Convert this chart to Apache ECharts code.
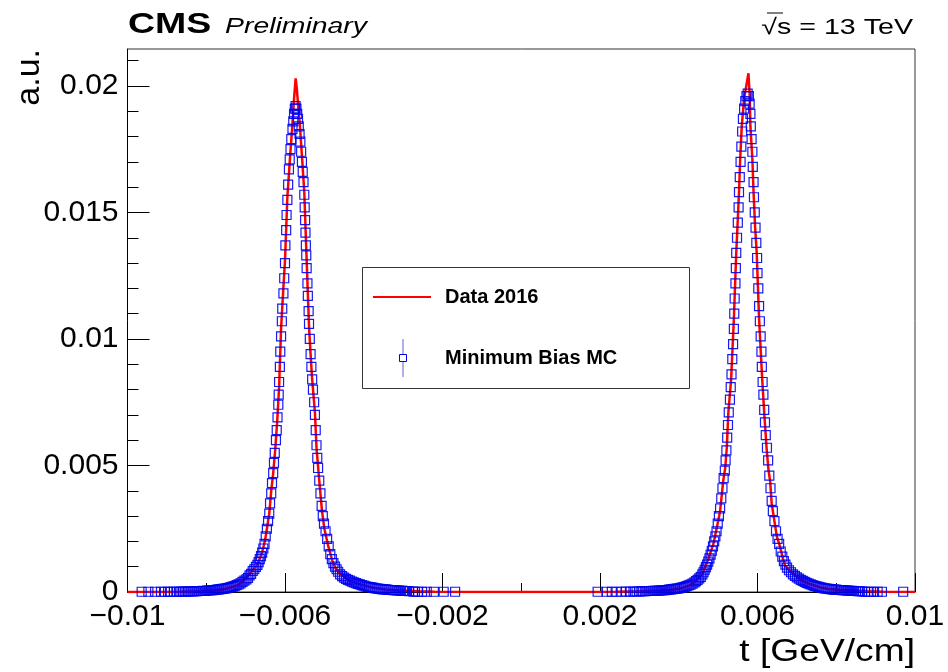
<!DOCTYPE html>
<html>
<head>
<meta charset="utf-8">
<script src="https://cdn.jsdelivr.net/npm/echarts@6.0.0/dist/echarts.min.js"></script>
<style>
html,body{margin:0;padding:0;background:#fff;}
#chart{width:948px;height:672px;}
</style>
</head>
<body>
<div id="chart"></div>
<script>
// ---------------- DATA ----------------
const xTickValues = [-0.01, -0.006, -0.002, 0.002, 0.006, 0.01];
const xTickLabels = ['\u22120.01', '\u22120.006', '\u22120.002', '0.002', '0.006', '0.01'];
const xMinorTicks = [-0.008, -0.004, 0, 0.004, 0.008];
const yTickValues = [0, 0.005, 0.01, 0.015, 0.02];
const yTickLabels = ['0', '0.005', '0.01', '0.015', '0.02'];
const yMinorTicks = [0.001, 0.002, 0.003, 0.004, 0.006, 0.007, 0.008, 0.009, 0.011, 0.012, 0.013, 0.014, 0.016, 0.017, 0.018, 0.019, 0.021];

const seriesNames = ['Data 2016', 'Minimum Bias MC'];

// Data 2016 : [t (GeV/cm), a.u.]
const data2016 = [
[-0.01,0],[-0.0088,0],[-0.0082,0.00003],[-0.0078,0.00006],[-0.0075,0.00012],[-0.0072,0.00027],
[-0.00705,0.00045],[-0.0069,0.0007],[-0.0068,0.0009],[-0.0067,0.00108],[-0.0066,0.00148],
[-0.00655,0.00176],[-0.0065,0.0021],[-0.00645,0.0026],[-0.0064,0.0031],[-0.00635,0.004],
[-0.0063,0.0047],[-0.00625,0.0056],[-0.0062,0.0067],[-0.00615,0.0081],[-0.0061,0.0104],
[-0.00605,0.0118],[-0.006,0.0131],[-0.00594,0.0156],[-0.00588,0.017],[-0.00582,0.0183],
[-0.00577,0.0195],[-0.00573,0.0203],[-0.0057,0.0199],[-0.00567,0.0193],[-0.00562,0.0184],
[-0.00556,0.017],[-0.00551,0.0158],[-0.00545,0.0131],[-0.00539,0.0105],[-0.00535,0.0094],
[-0.00531,0.0084],[-0.00524,0.0071],[-0.0052,0.0057],[-0.00513,0.0044],[-0.00506,0.0032],
[-0.005,0.0025],[-0.0049,0.0018],[-0.0048,0.00125],[-0.00473,0.00099],[-0.0046,0.0007],
[-0.00435,0.00045],[-0.0041,0.0003],[-0.0038,0.00018],[-0.00345,0.0001],[-0.0031,0.00006],
[-0.0026,0.00003],[-0.0022,0.00001],[-0.0018,0],[0.0018,0],[0.0024,0.00001],[0.003,0.00003],
[0.0035,0.00005],[0.0038,0.00008],[0.0041,0.00016],[0.0043,0.00028],[0.0045,0.00052],
[0.0046,0.0007],[0.00467,0.00099],[0.00475,0.0013],[0.00488,0.0019],[0.005,0.0028],
[0.00505,0.0032],[0.00513,0.0044],[0.00518,0.0049],[0.00522,0.0057],[0.00526,0.0071],
[0.00533,0.0084],[0.0054,0.0108],[0.00546,0.0134],[0.00549,0.0144],[0.00553,0.0158],
[0.00556,0.0171],[0.0056,0.0184],[0.00566,0.0195],[0.00577,0.0205],[0.0058,0.0197],
[0.00582,0.0184],[0.00587,0.0171],[0.0059,0.0158],[0.00594,0.0144],[0.00598,0.0134],
[0.00604,0.0108],[0.00612,0.0084],[0.00617,0.0071],[0.00623,0.0057],[0.00628,0.0048],
[0.00632,0.0044],[0.00636,0.0035],[0.0064,0.0031],[0.00649,0.0022],[0.00657,0.0018],
[0.00665,0.0013],[0.0067,0.00105],[0.00683,0.0008],[0.007,0.00059],[0.0072,0.0004],
[0.00733,0.00032],[0.0076,0.00018],[0.0078,0.00012],[0.0081,0.00008],[0.0084,0.00006],
[0.0088,0.00003],[0.0092,0.00001],[0.01,0]
];

// Minimum Bias MC : [t (GeV/cm), a.u.]
const mcMinBias = [
[-0.00964,0.00001],[-0.00947,0.00001],[-0.0093,0.00001],[-0.00915,0.00001],[-0.00905,0.00001],
[-0.00897,0.00001],[-0.0089,0.00001],[-0.00882,0.00001],[-0.00876,0.00001],[-0.00869,0.00001],
[-0.00863,0.00002],[-0.00858,0.00002],[-0.00853,0.00001],[-0.00848,0.00002],[-0.00843,0.00002],
[-0.00838,0.00003],[-0.00833,0.00002],[-0.00828,0.00003],[-0.00823,0.00003],[-0.00818,0.00004],
[-0.00813,0.00004],[-0.00808,0.00005],[-0.00803,0.00004],[-0.00798,0.00006],[-0.00793,0.00006],
[-0.00788,0.00007],[-0.00783,0.00007],[-0.00778,0.00008],[-0.00773,0.00009],[-0.00768,0.0001],
[-0.00763,0.00011],[-0.00758,0.00012],[-0.00753,0.00013],[-0.00748,0.00015],[-0.00743,0.00016],
[-0.00738,0.00019],[-0.00733,0.00021],[-0.00728,0.00023],[-0.00723,0.00027],[-0.00718,0.0003],
[-0.00713,0.00034],[-0.00708,0.0004],[-0.00703,0.00045],[-0.00698,0.0005],[-0.00694,0.00056],
[-0.0069,0.00066],[-0.00686,0.00072],[-0.00682,0.00083],[-0.00678,0.0009],[-0.00674,0.00099],
[-0.0067,0.00107],[-0.00667,0.00118],[-0.00664,0.0013],[-0.00661,0.00142],[-0.00658,0.00156],
[-0.00655,0.00172],[-0.00652,0.0019],[-0.00649,0.0022],[-0.00646,0.0025],[-0.00643,0.0028],
[-0.0064,0.0031],[-0.00638,0.0035],[-0.00635,0.0039],[-0.00633,0.0043],[-0.0063,0.0047],
[-0.00628,0.0051],[-0.00626,0.0055],[-0.00623,0.006],[-0.00621,0.0064],[-0.00619,0.0069],
[-0.00617,0.0074],[-0.00616,0.0078],[-0.00615,0.0083],[-0.00613,0.0089],[-0.00612,0.0095],
[-0.0061,0.0101],[-0.00608,0.0107],[-0.00607,0.0112],[-0.00604,0.0118],[-0.00602,0.0124],
[-0.006,0.013],[-0.00599,0.0137],[-0.00597,0.0143],[-0.00596,0.0149],[-0.00594,0.0155],
[-0.00592,0.0161],[-0.0059,0.0167],[-0.00588,0.0171],[-0.00586,0.0175],[-0.00584,0.0179],
[-0.00581,0.0183],[-0.00579,0.0186],[-0.00577,0.0189],[-0.00575,0.0191],[-0.00573,0.0192],
[-0.00571,0.0191],[-0.00569,0.0189],[-0.00567,0.0187],[-0.00565,0.0184],[-0.00563,0.0181],
[-0.00561,0.0178],[-0.00559,0.0174],[-0.00557,0.017],[-0.00555,0.0166],[-0.00553,0.0162],
[-0.00551,0.0157],[-0.0055,0.0152],[-0.00549,0.0147],[-0.00548,0.0142],[-0.00547,0.0137],
[-0.00546,0.0133],[-0.00545,0.0128],[-0.00543,0.0122],[-0.00542,0.0117],[-0.0054,0.0111],
[-0.00539,0.0106],[-0.00537,0.01],[-0.00535,0.0094],[-0.00533,0.0089],[-0.00531,0.0084],
[-0.00529,0.008],[-0.00526,0.0075],[-0.00524,0.007],[-0.00522,0.0064],[-0.0052,0.0058],
[-0.00518,0.0053],[-0.00516,0.0049],[-0.00513,0.0044],[-0.0051,0.0039],[-0.00507,0.0034],
[-0.00504,0.003],[-0.00501,0.0027],[-0.00497,0.0024],[-0.00493,0.0021],[-0.00489,0.0018],
[-0.00485,0.0015],[-0.00481,0.0013],[-0.00477,0.00114],[-0.00473,0.001],[-0.00469,0.0009],
[-0.00465,0.0008],[-0.0046,0.0007],[-0.00455,0.00063],[-0.0045,0.00057],[-0.00445,0.00052],
[-0.0044,0.00048],[-0.00435,0.00045],[-0.0043,0.00041],[-0.00425,0.00038],[-0.0042,0.00035],
[-0.00415,0.00032],[-0.0041,0.0003],[-0.00405,0.00027],[-0.004,0.00025],[-0.00395,0.00022],
[-0.0039,0.0002],[-0.00385,0.00019],[-0.0038,0.00018],[-0.00375,0.00016],[-0.0037,0.00014],
[-0.00365,0.00013],[-0.0036,0.00012],[-0.00355,0.00011],[-0.0035,0.0001],[-0.00345,0.0001],
[-0.0034,0.00009],[-0.00335,0.00008],[-0.0033,0.00008],[-0.00325,0.00007],[-0.0032,0.00007],
[-0.00315,0.00006],[-0.0031,0.00006],[-0.00305,0.00005],[-0.003,0.00005],[-0.00295,0.00004],
[-0.0029,0.00004],[-0.00285,0.00003],[-0.00275,0.00002],[-0.0027,0.00001],[-0.00262,0.00001],
[-0.00252,0.00001],[-0.0024,0.00001],[-0.00222,0.00001],[-0.00197,0.00001],[-0.00168,0.00001],
[0.00194,0.00001],[0.00217,0.00001],[0.0023,0.00001],[0.00242,0.00001],[0.00255,0.00001],
[0.00266,0.00002],[0.00276,0.00001],[0.00285,0.00002],[0.00293,0.00002],[0.003,0.00002],
[0.00305,0.00003],[0.0031,0.00003],[0.00315,0.00003],[0.0032,0.00004],[0.00325,0.00004],
[0.0033,0.00004],[0.00335,0.00005],[0.0034,0.00005],[0.00345,0.00005],[0.0035,0.00006],
[0.00355,0.00006],[0.0036,0.00007],[0.00365,0.00007],[0.0037,0.00008],[0.00375,0.00009],
[0.0038,0.0001],[0.00385,0.00011],[0.0039,0.00012],[0.00395,0.00013],[0.004,0.00014],
[0.00405,0.00016],[0.0041,0.00018],[0.00415,0.0002],[0.0042,0.00023],[0.00425,0.00026],
[0.0043,0.00029],[0.00435,0.00033],[0.0044,0.00038],[0.00444,0.00043],[0.00448,0.00048],
[0.00452,0.00054],[0.00456,0.0006],[0.0046,0.0007],[0.00463,0.00078],[0.00466,0.00088],
[0.00469,0.00098],[0.00472,0.00108],[0.00475,0.0012],[0.00478,0.00133],[0.00481,0.00148],
[0.00484,0.00163],[0.00487,0.0018],[0.0049,0.002],[0.00493,0.0022],[0.00496,0.0024],
[0.00499,0.0027],[0.00502,0.003],[0.00505,0.0033],[0.00508,0.0037],[0.00511,0.0041],
[0.00514,0.0045],[0.00517,0.0048],[0.00519,0.0052],[0.00521,0.0056],[0.00523,0.0061],
[0.00525,0.0066],[0.00527,0.0071],[0.0053,0.0076],[0.00532,0.0081],[0.00534,0.0086],
[0.00536,0.0092],[0.00538,0.0098],[0.0054,0.0104],[0.00541,0.011],[0.00542,0.0116],
[0.00544,0.0122],[0.00545,0.0128],[0.00546,0.0134],[0.00548,0.014],[0.0055,0.0146],
[0.00552,0.0152],[0.00553,0.0158],[0.00555,0.0164],[0.00557,0.017],[0.00559,0.0176],
[0.00561,0.0182],[0.00563,0.0187],[0.00566,0.0191],[0.00569,0.0194],[0.00572,0.0196],
[0.00575,0.0197],[0.00578,0.0196],[0.0058,0.0193],[0.00582,0.0189],[0.00583,0.0184],
[0.00585,0.0179],[0.00587,0.0174],[0.00588,0.0168],[0.0059,0.0162],[0.00591,0.0156],
[0.00593,0.015],[0.00595,0.0144],[0.00597,0.0138],[0.00599,0.0132],[0.006,0.0126],
[0.00602,0.012],[0.00604,0.0113],[0.00606,0.0107],[0.00608,0.0101],[0.0061,0.0095],
[0.00611,0.0089],[0.00613,0.0083],[0.00615,0.0078],[0.00617,0.0072],[0.00619,0.0067],
[0.00621,0.0062],[0.00624,0.0057],[0.00627,0.0052],[0.0063,0.0046],[0.00633,0.0041],
[0.00636,0.0036],[0.00639,0.0032],[0.00643,0.0028],[0.00647,0.0024],[0.00651,0.0021],
[0.00655,0.0019],[0.00659,0.0016],[0.00663,0.0014],[0.00667,0.00122],[0.00671,0.00108],
[0.00675,0.00096],[0.0068,0.00086],[0.00685,0.00078],[0.0069,0.0007],[0.00695,0.00064],
[0.007,0.00058],[0.00705,0.00053],[0.0071,0.00048],[0.00715,0.00044],[0.0072,0.0004],
[0.00725,0.00036],[0.0073,0.00033],[0.00735,0.0003],[0.0074,0.00027],[0.00745,0.00024],
[0.0075,0.00022],[0.00755,0.0002],[0.0076,0.00018],[0.00765,0.00016],[0.0077,0.00014],
[0.00775,0.00013],[0.0078,0.00012],[0.00785,0.00011],[0.0079,0.0001],[0.00795,0.00009],
[0.008,0.00009],[0.00805,0.00008],[0.0081,0.00008],[0.00815,0.00007],[0.0082,0.00007],
[0.00825,0.00006],[0.0083,0.00006],[0.00835,0.00005],[0.0084,0.00005],[0.00845,0.00004],
[0.0085,0.00004],[0.00855,0.00003],[0.0086,0.00003],[0.00866,0.00002],[0.00873,0.00001],
[0.0088,0.00001],[0.00888,0.00001],[0.00896,0.00001],[0.00905,0.00001],[0.00916,0.00001],
[0.0097,0.00001]
];

// ---------------- CHART ----------------
const FONT = "'Liberation Sans', Arial, Helvetica, sans-serif";
function pick(values, labels) {
  return function (v) {
    for (let i = 0; i < values.length; i++) {
      if (Math.abs(values[i] - v) < 1e-9) return labels[i];
    }
    return '';
  };
}

const chart = echarts.init(document.getElementById('chart'), null, {renderer: 'canvas'});
const option = {
  animation: false,
  backgroundColor: '#ffffff',
  grid: {
    left: 127.5, right: 33, top: 49, bottom: 80,
    show: true, borderColor: '#333', borderWidth: 1, backgroundColor: 'transparent',
    containLabel: false, outerBoundsMode: 'none'
  },
  xAxis: [
    {
      type: 'value', min: -0.01, max: 0.01, position: 'bottom',
      axisLine: {show: true, onZero: false, lineStyle: {color: '#000', width: 1}},
      axisTick: {show: true, inside: true, length: 19, customValues: xTickValues, lineStyle: {color: '#000', width: 1}},
      axisLabel: {show: true, customValues: xTickValues, formatter: pick(xTickValues, xTickLabels),
        fontFamily: FONT, fontSize: 30, color: '#000', margin: 10},
      splitLine: {show: false}
    },
    {
      type: 'value', min: -0.01, max: 0.01, position: 'bottom',
      axisLine: {show: false, onZero: false},
      axisTick: {show: true, inside: true, length: 9, customValues: xMinorTicks, lineStyle: {color: '#000', width: 1}},
      axisLabel: {show: false},
      splitLine: {show: false}
    }
  ],
  yAxis: [
    {
      type: 'value', min: 0, max: 0.02146, position: 'left',
      axisLine: {show: true, onZero: false, lineStyle: {color: '#000', width: 1}},
      axisTick: {show: true, inside: true, length: 22, customValues: yTickValues, lineStyle: {color: '#000', width: 1}},
      axisLabel: {show: true, customValues: yTickValues, formatter: pick(yTickValues, yTickLabels),
        fontFamily: FONT, fontSize: 30, color: '#000', margin: 9},
      splitLine: {show: false}
    },
    {
      type: 'value', min: 0, max: 0.02146, position: 'left',
      axisLine: {show: false, onZero: false},
      axisTick: {show: true, inside: true, length: 11, customValues: yMinorTicks, lineStyle: {color: '#000', width: 1}},
      axisLabel: {show: false},
      splitLine: {show: false}
    }
  ],
  series: [
    {
      name: seriesNames[0], type: 'line', data: data2016, xAxisIndex: 0, yAxisIndex: 0,
      showSymbol: false, symbol: 'none', smooth: false, clip: true,
      lineStyle: {color: '#ff0000', width: 2.5}, z: 2
    },
    {
      name: seriesNames[1], type: 'scatter', data: mcMinBias, xAxisIndex: 0, yAxisIndex: 0,
      symbol: 'rect', symbolSize: 9, clip: false,
      itemStyle: {color: 'rgba(255,255,255,0)', borderColor: '#0000f0', borderWidth: 1.2, opacity: 0.9}, z: 3
    }
  ],
  graphic: [
    {type: 'text', x: 128, y: 25, scaleX: 1.25, style: {text: 'CMS', font: "bold 30px " + FONT, fill: '#000', textAlign: 'left', verticalAlign: 'middle'}},
    {type: 'text', x: 225, y: 27, scaleX: 1.29, style: {text: 'Preliminary', font: "italic 22px " + FONT, fill: '#000', textAlign: 'left', verticalAlign: 'middle'}},
    {type: 'text', x: 913, y: 28, scaleX: 1.3, style: {text: '\u221As = 13 TeV', font: "22px " + FONT, fill: '#000', textAlign: 'right', verticalAlign: 'middle'}},
    {type: 'line', shape: {x1: 767, y1: 13, x2: 783, y2: 13}, style: {stroke: '#000', lineWidth: 1}},
    {type: 'text', x: 915, y: 652, scaleX: 1.2, style: {text: 't [GeV/cm]', font: "31px " + FONT, fill: '#000', textAlign: 'right', verticalAlign: 'middle'}},
    {type: 'text', x: 30, y: 49, rotation: Math.PI / 2, style: {text: 'a.u.', font: "34px " + FONT, fill: '#000', textAlign: 'right', verticalAlign: 'middle'}},
    {type: 'rect', z: 50, shape: {x: 362.5, y: 267.5, width: 327, height: 121}, style: {fill: '#fff', stroke: '#333', lineWidth: 1}},
    {type: 'line', z: 51, shape: {x1: 373, y1: 297, x2: 431, y2: 297}, style: {stroke: '#ff0000', lineWidth: 2}},
    {type: 'line', z: 51, shape: {x1: 403, y1: 339, x2: 403, y2: 377}, style: {stroke: '#6060e0', lineWidth: 1}},
    {type: 'rect', z: 52, shape: {x: 399.5, y: 354.5, width: 7, height: 7}, style: {fill: '#fff', stroke: '#0000f0', lineWidth: 1}},
    {type: 'text', z: 52, x: 445, y: 297, style: {text: seriesNames[0], font: "bold 20px " + FONT, fill: '#000', textAlign: 'left', verticalAlign: 'middle'}},
    {type: 'text', z: 52, x: 445, y: 358, style: {text: seriesNames[1], font: "bold 20px " + FONT, fill: '#000', textAlign: 'left', verticalAlign: 'middle'}}
  ]
};
chart.setOption(option);
</script>
</body>
</html>
